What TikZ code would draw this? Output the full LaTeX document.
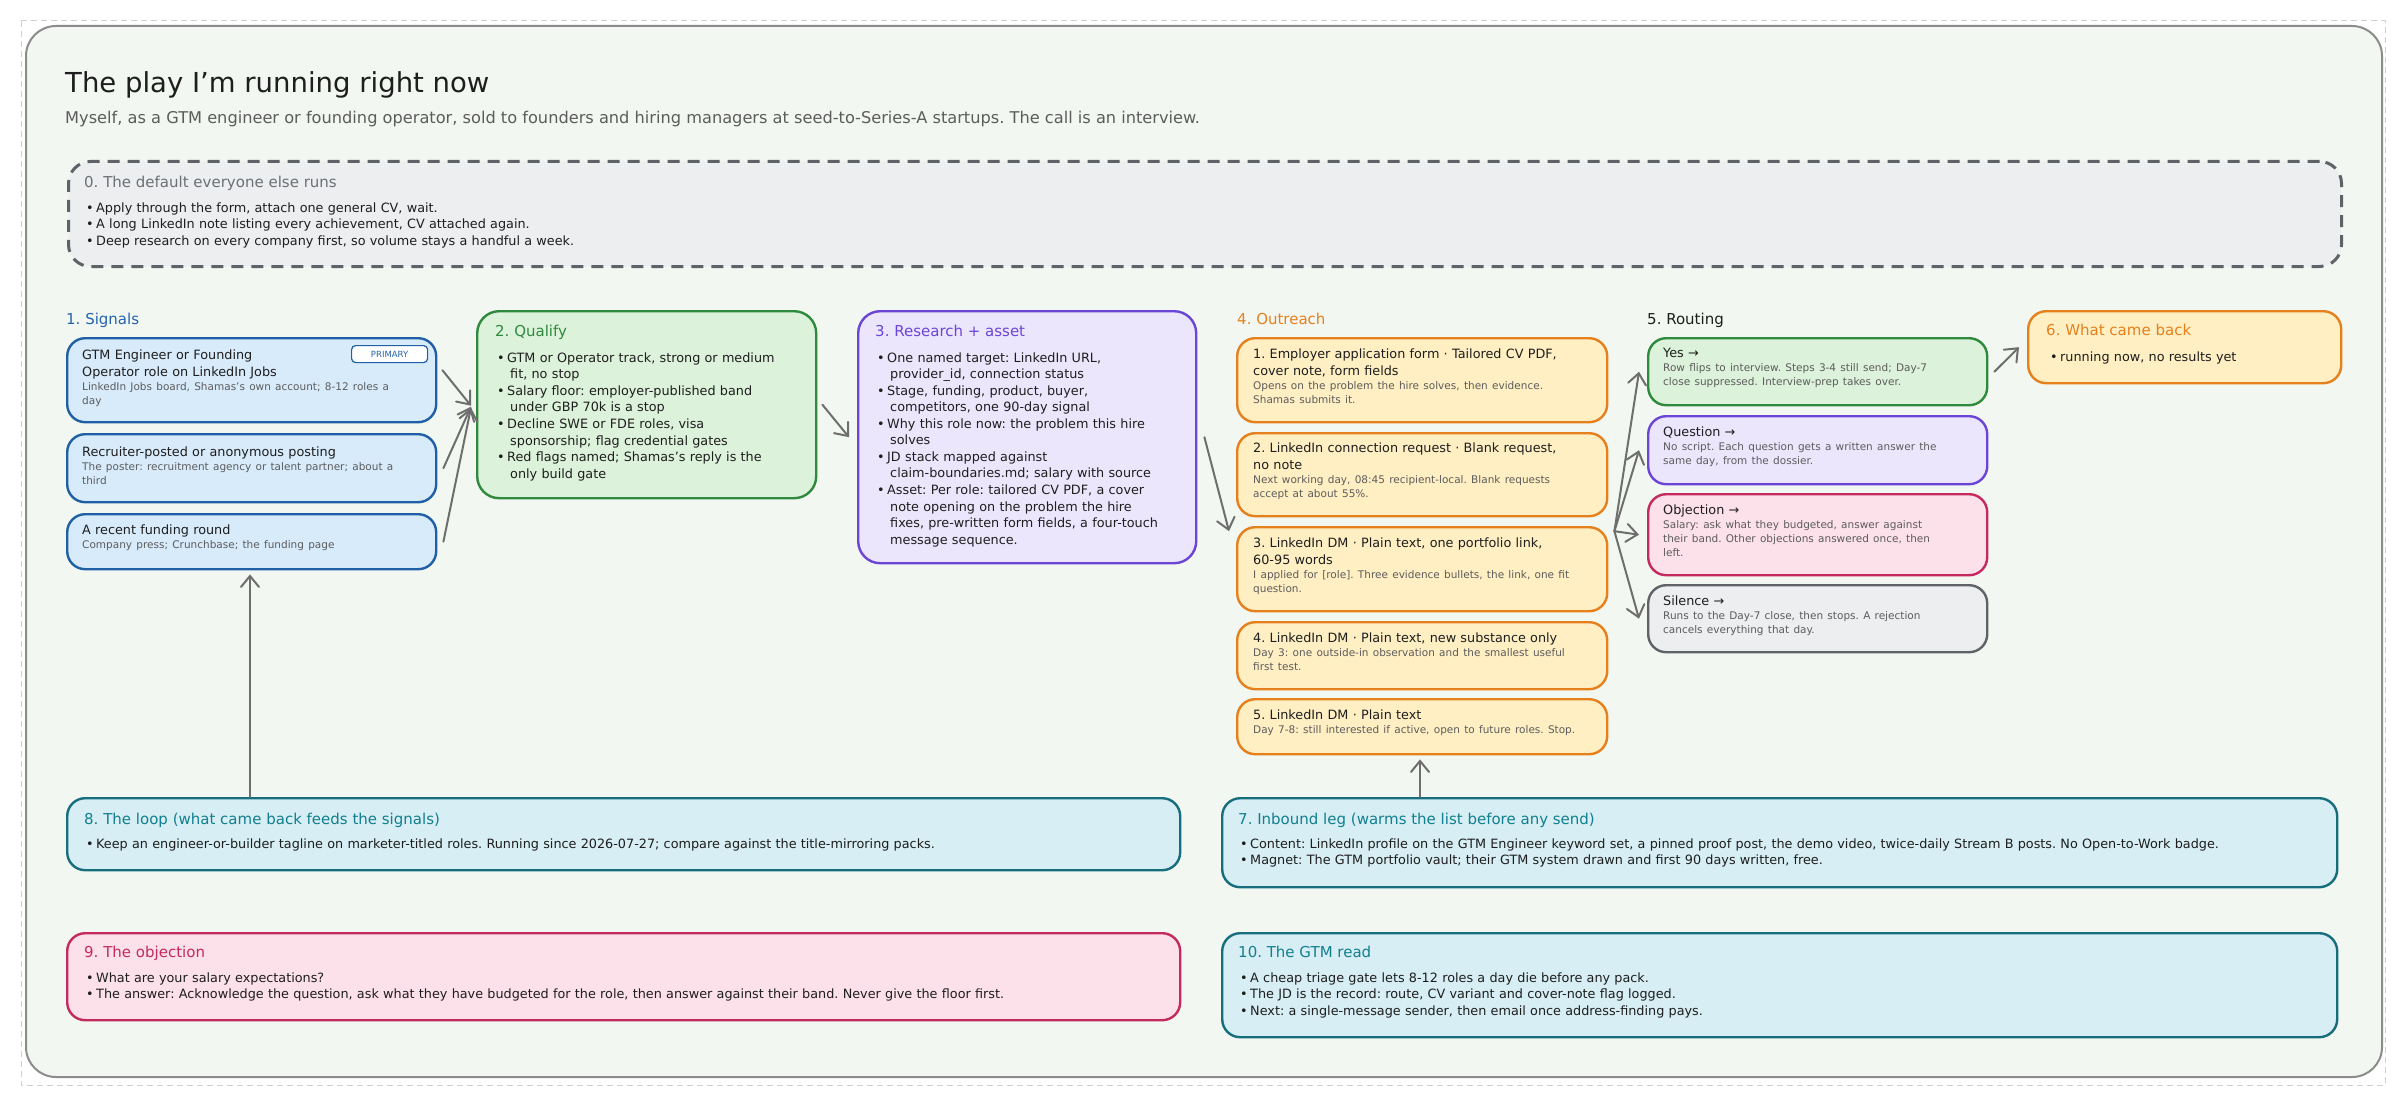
\documentclass[tikz,border=0pt]{standalone}
\usepackage{fontspec}
\setmainfont{DejaVu Sans}
\usetikzlibrary{arrows.meta}
\frenchspacing
\definecolor{ink}{HTML}{1E1E1E}
\definecolor{subc}{HTML}{5C5C5C}
\definecolor{panelfill}{HTML}{F3F7F1}
\definecolor{panelline}{HTML}{8C8C8C}
\definecolor{outerdash}{HTML}{D0D0D0}
\definecolor{grayline}{HTML}{5F6368}
\definecolor{grayfill}{HTML}{ECEEF0}
\definecolor{grayhead}{HTML}{6B7075}
\definecolor{blueline}{HTML}{1F5FA6}
\definecolor{bluefill}{HTML}{D8EBFB}
\definecolor{bluehead}{HTML}{2464AE}
\definecolor{greenline}{HTML}{2F8A3D}
\definecolor{greenfill}{HTML}{DDF2DB}
\definecolor{purpline}{HTML}{6A45D6}
\definecolor{purpfill}{HTML}{ECE6FD}
\definecolor{orangeline}{HTML}{E5801C}
\definecolor{orangefill}{HTML}{FFEFC3}
\definecolor{pinkline}{HTML}{C42A5E}
\definecolor{pinkfill}{HTML}{FDE1EA}
\definecolor{tealline}{HTML}{166E7D}
\definecolor{tealfill}{HTML}{D6EEF4}
\definecolor{tealhead}{HTML}{127F8E}
\definecolor{arrowc}{HTML}{6E6E6E}
\newcommand\fs[2]{\fontsize{#1}{#2}\selectfont}
\newcommand\bu{\makebox[10pt][l]{•}}
\newcommand\ind{\hspace*{13pt}}
\newcommand\subtx[1]{{\fs{10.5}{14}\leavevmode\color{subc}#1\par}}
\tikzset{
  box/.style={rounded corners=18pt, line width=2.4pt, inner sep=0pt, anchor=north west},
  bigbox/.style={box, rounded corners=22pt},
  bluebox/.style={box, draw=blueline, fill=bluefill},
  greenbox/.style={draw=greenline, fill=greenfill},
  purpbox/.style={draw=purpline, fill=purpfill},
  orangebox/.style={box, draw=orangeline, fill=orangefill},
  pinkbox/.style={draw=pinkline, fill=pinkfill},
  graybox/.style={draw=grayline, fill=grayfill},
  tealbox/.style={draw=tealline, fill=tealfill},
  tx/.style={anchor=base west, inner sep=0pt, align=left, text width=#1, text=ink, font=\fs{12.8}{17}},
  tx/.default=380pt,
  head/.style={anchor=base west, inner sep=0pt, font=\fs{15}{18}},
  blist/.style={anchor=base west, inner sep=0pt, align=left, text width=#1, text=ink, font=\fs{12.8}{16.6}},
  blist/.default=380pt,
  arr/.style={draw=arrowc, line width=2pt, line cap=round, -{Straight Barb[length=11pt,width=18pt,line cap=round]}},
}
\begin{document}
\begin{tikzpicture}[x=1pt,y=-1pt]
\useasboundingbox (0,0) rectangle (2400,1102);
\fill[white] (0,0) rectangle (2400,1102);
% outer frame
\draw[outerdash, line width=1pt, dash pattern=on 6pt off 4pt] (21,21) rectangle (2385,1085);
\node[box, rounded corners=30pt, draw=panelline, fill=panelfill, line width=2pt, minimum width=2356pt, minimum height=1051pt] (panel) at (25,25) {};
% title
\node[anchor=base west, inner sep=0pt, text=ink, font=\fs{27.5}{31}] (title) at (65,93) {The play I’m running right now};
\node[anchor=base west, inner sep=0pt, text=subc, font=\fs{16.2}{20}] (subtitle) at (65,124) {Myself, as a GTM engineer or founding operator, sold to founders and hiring managers at seed-to-Series-A startups. The call is an interview.};
% 0. default
\node[bigbox, draw=grayline, fill=grayfill, line width=3pt, dash pattern=on 12pt off 8pt, minimum width=2273pt, minimum height=105pt] (b0) at (67,160) {};
\node[head, text=grayhead] (b0h) at (84,188) {0. The default everyone else runs};
\node[blist=1200pt, font=\fs{12.8}{16.5}] (b0t) at (86,212) {\bu Apply through the form, attach one general CV, wait.\\
\bu A long LinkedIn note listing every achievement, CV attached again.\\
\bu Deep research on every company first, so volume stays a handful a week.};
% 1. Signals
\node[head, text=bluehead] (sigh) at (66,324) {1. Signals};
\node[bluebox, minimum width=369pt, minimum height=84pt] (s1) at (66,337) {};
\node[draw=blueline, fill=white, line width=1.2pt, rounded corners=4pt, minimum width=76pt, minimum height=17pt, inner sep=0pt, anchor=north west, text=bluehead, font=\fs{8.5}{10}] (ptag) at (351,345) {PRIMARY};
\node[tx=360pt] (s1t) at (82,359) {GTM Engineer or Founding\\Operator role on LinkedIn Jobs\par
\subtx{LinkedIn Jobs board, Shamas's own account; 8-12 roles a\\day}};
\node[bluebox, minimum width=369pt, minimum height=68pt] (s2) at (66,433) {};
\node[tx=360pt] (s2t) at (82,456) {Recruiter-posted or anonymous posting\par
\subtx{The poster: recruitment agency or talent partner; about a\\third}};
\node[bluebox, minimum width=369pt, minimum height=55pt] (s3) at (66,513) {};
\node[tx=360pt] (s3t) at (82,534) {A recent funding round\par
\subtx{Company press; Crunchbase; the funding page}};
% 2. Qualify
\node[bigbox, greenbox, minimum width=339pt, minimum height=187pt] (q) at (476,310) {};
\node[head, text=greenline] (qh) at (495,336) {2. Qualify};
\node[blist=320pt] (qt) at (497,362) {\bu GTM or Operator track, strong or medium\\
\ind fit, no stop\\
\bu Salary floor: employer-published band\\
\ind under GBP 70k is a stop\\
\bu Decline SWE or FDE roles, visa\\
\ind sponsorship; flag credential gates\\
\bu Red flags named; Shamas's reply is the\\
\ind only build gate};
% 3. Research
\node[bigbox, purpbox, minimum width=338pt, minimum height=252pt] (r) at (857,310) {};
\node[head, text=purpline] (rh) at (875,336) {3. Research + asset};
\node[blist=320pt, font=\fs{12.8}{16.56}] (rt) at (877,362) {\bu One named target: LinkedIn URL,\\
\ind provider\_id, connection status\\
\bu Stage, funding, product, buyer,\\
\ind competitors, one 90-day signal\\
\bu Why this role now: the problem this hire\\
\ind solves\\
\bu JD stack mapped against\\
\ind claim-boundaries.md; salary with source\\
\bu Asset: Per role: tailored CV PDF, a cover\\
\ind note opening on the problem the hire\\
\ind fixes, pre-written form fields, a four-touch\\
\ind message sequence.};
% 4. Outreach
\node[head, text=orangeline] (oh) at (1237,324) {4. Outreach};
\node[orangebox, minimum width=370pt, minimum height=84pt] (o1) at (1236,337) {};
\node[tx=360pt] (o1t) at (1253,358) {1. Employer application form · Tailored CV PDF,\\cover note, form fields\par
\subtx{Opens on the problem the hire solves, then evidence.\\Shamas submits it.}};
\node[orangebox, minimum width=370pt, minimum height=83pt] (o2) at (1236,432) {};
\node[tx=360pt] (o2t) at (1253,452) {2. LinkedIn connection request · Blank request,\\no note\par
\subtx{Next working day, 08:45 recipient-local. Blank requests\\accept at about 55\%.}};
\node[orangebox, minimum width=370pt, minimum height=84pt] (o3) at (1236,526) {};
\node[tx=360pt] (o3t) at (1253,547) {3. LinkedIn DM · Plain text, one portfolio link,\\60-95 words\par
\subtx{I applied for [role]. Three evidence bullets, the link, one fit\\question.}};
\node[orangebox, minimum width=370pt, minimum height=67pt] (o4) at (1236,621) {};
\node[tx=360pt] (o4t) at (1253,642) {4. LinkedIn DM · Plain text, new substance only\par
\subtx{Day 3: one outside-in observation and the smallest useful\\first test.}};
\node[orangebox, minimum width=370pt, minimum height=55pt] (o5) at (1236,698) {};
\node[tx=360pt] (o5t) at (1253,719) {5. LinkedIn DM · Plain text\par
\subtx{Day 7-8: still interested if active, open to future roles. Stop.}};
% 5. Routing
\node[head, text=ink] (rth) at (1647,324) {5. Routing};
\node[box, greenbox, minimum width=339pt, minimum height=67pt] (yes) at (1647,337) {};
\node[tx=330pt] (yest) at (1663,357) {Yes →\par
\subtx{Row flips to interview. Steps 3-4 still send; Day-7\\close suppressed. Interview-prep takes over.}};
\node[box, purpbox, minimum width=339pt, minimum height=68pt] (qn) at (1647,415) {};
\node[tx=330pt] (qnt) at (1663,436) {Question →\par
\subtx{No script. Each question gets a written answer the\\same day, from the dossier.}};
\node[box, pinkbox, minimum width=339pt, minimum height=81pt] (ob) at (1647,493) {};
\node[tx=330pt] (obt) at (1663,514) {Objection →\par
\subtx{Salary: ask what they budgeted, answer against\\their band. Other objections answered once, then\\left.}};
\node[box, graybox, minimum width=339pt, minimum height=67pt] (si) at (1647,584) {};
\node[tx=330pt] (sit) at (1663,605) {Silence →\par
\subtx{Runs to the Day-7 close, then stops. A rejection\\cancels everything that day.}};
% 6. What came back
\node[orangebox, minimum width=313pt, minimum height=72pt] (b6) at (2027,310) {};
\node[head, text=orangeline] (b6h) at (2046,335) {6. What came back};
\node[blist=290pt] (b6t) at (2050,361) {\bu running now, no results yet};
% 8. loop
\node[box, tealbox, minimum width=1113pt, minimum height=72pt] (b8) at (66,797) {};
\node[head, text=tealhead] (b8h) at (84,824) {8. The loop (what came back feeds the signals)};
\node[blist=1090pt] (b8t) at (86,848) {\bu Keep an engineer-or-builder tagline on marketer-titled roles. Running since 2026-07-27; compare against the title-mirroring packs.};
% 9. objection
\node[box, pinkbox, minimum width=1113pt, minimum height=87pt] (b9) at (66,932) {};
\node[head, text=pinkline] (b9h) at (84,957) {9. The objection};
\node[blist=1090pt] (b9t) at (86,982) {\bu What are your salary expectations?\\
\bu The answer: Acknowledge the question, ask what they have budgeted for the role, then answer against their band. Never give the floor first.};
% 7. inbound
\node[box, tealbox, minimum width=1115pt, minimum height=89pt] (b7) at (1221,797) {};
\node[head, text=tealhead] (b7h) at (1238,824) {7. Inbound leg (warms the list before any send)};
\node[blist=1090pt] (b7t) at (1240,848) {\bu Content: LinkedIn profile on the GTM Engineer keyword set, a pinned proof post, the demo video, twice-daily Stream B posts. No Open-to-Work badge.\\
\bu Magnet: The GTM portfolio vault; their GTM system drawn and first 90 days written, free.};
% 10. GTM read
\node[box, tealbox, minimum width=1115pt, minimum height=104pt] (b10) at (1221,932) {};
\node[head, text=tealhead] (b10h) at (1238,957) {10. The GTM read};
\node[blist=1090pt] (b10t) at (1240,982) {\bu A cheap triage gate lets 8-12 roles a day die before any pack.\\
\bu The JD is the record: route, CV variant and cover-note flag logged.\\
\bu Next: a single-message sender, then email once address-finding pays.};
% connectors
\draw[arr] ([xshift=5pt,yshift=10pt]s1.east) -- ([xshift=-5pt,yshift=-1pt]q.west);
\draw[arr] ([xshift=6pt]s2.east) -- ([xshift=-5pt,yshift=-2pt]q.west);
\draw[arr] ([xshift=6pt,yshift=0pt]s3.east) -- ([xshift=-5pt,yshift=-3pt]q.west);
\draw[arr] ([xshift=5pt]q.east) -- ([xshift=-8pt]r.west);
\draw[arr] ([xshift=7pt]r.east) -- ([xshift=-7pt,yshift=38pt]o3.west);
\draw[arr] ([xshift=6pt,yshift=38pt]o3.east) -- ([xshift=-8pt]yes.west);
\draw[arr] ([xshift=6pt,yshift=38pt]o3.east) -- ([xshift=-8pt]qn.west);
\draw[arr] ([xshift=6pt,yshift=38pt]o3.east) -- ([xshift=-8pt]ob.west);
\draw[arr] ([xshift=6pt,yshift=38pt]o3.east) -- ([xshift=-8pt]si.west);
\draw[arr] ([xshift=6pt]yes.east) -- ([xshift=-8pt]b6.west);
\draw[arr] ([xshift=184pt]b8.north west) -- ([xshift=184pt,yshift=-4pt]s3.south west);
\draw[arr] ([xshift=199pt]b7.north west) -- ([xshift=184pt,yshift=-4pt]o5.south west);
\end{tikzpicture}
\end{document}
